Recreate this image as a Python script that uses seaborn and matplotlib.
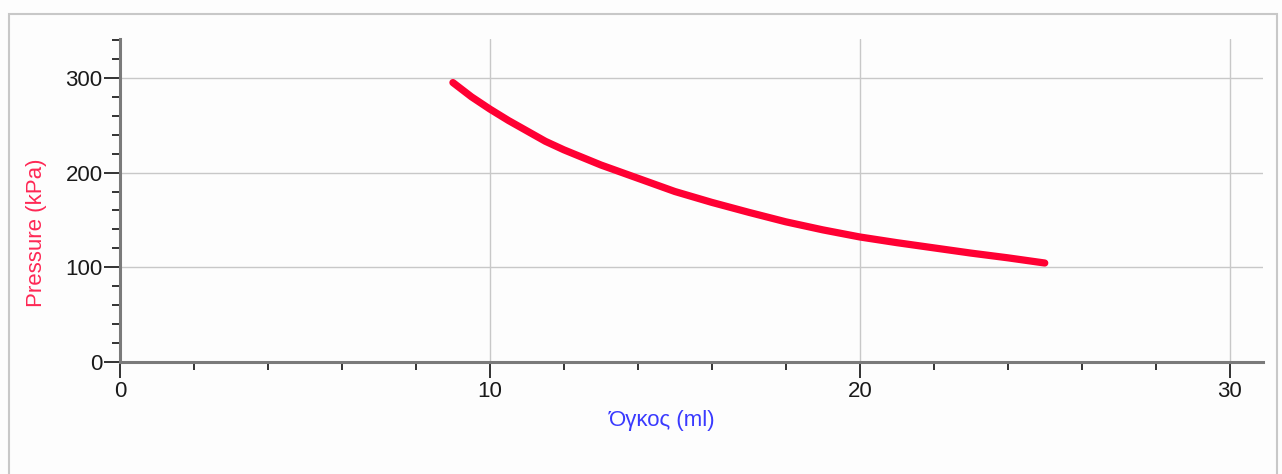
import pandas as pd
import matplotlib.pyplot as plt
import matplotlib.patches as patches
from matplotlib.ticker import MultipleLocator
import seaborn as sns

# volume (ml) and pressure (kPa)
volume = [9.0, 9.5, 10, 10.5, 11, 11.5, 12, 13, 14, 15, 16, 17, 18, 19, 20, 21, 22, 23, 24, 25.0]
pressure = [295, 280, 267, 255, 244, 233, 224, 208, 194, 180, 168.5, 158, 148, 139.5, 132, 126, 120.5, 115, 110, 104.5]

x_ticks = [0, 10, 20, 30]
y_ticks = [0, 100, 200, 300]

df = pd.DataFrame({"volume": volume, "pressure": pressure})

sns.set_style("white")
plt.rcParams['font.family'] = ['Liberation Sans', 'DejaVu Sans']

fig = plt.figure(figsize=(12.82, 4.74), dpi=100)
fig.patch.set_facecolor("#fdfdfd")
# outer light frame
fig.patches.append(patches.Rectangle((9 / 1282, -0.05), 1268 / 1282, 1 - 14 / 474 + 0.05,
                                     transform=fig.transFigure, fill=False,
                                     edgecolor="#c8c8c8", linewidth=1.5))

ax = fig.add_axes([120 / 1282, 112 / 474, 1143 / 1282, 323 / 474])
ax.set_facecolor("#fdfdfd")

sns.lineplot(data=df, x="volume", y="pressure", ax=ax, color="#ff0033",
             linewidth=5.2, solid_capstyle="round", solid_joinstyle="round")

ax.set_xlim(0, 30.9)
ax.set_ylim(0, 341)
ax.set_xticks(x_ticks)
ax.set_yticks(y_ticks)
ax.xaxis.set_minor_locator(MultipleLocator(2))
ax.yaxis.set_minor_locator(MultipleLocator(20))

ax.grid(True, which="major", color="#c8c8c8", linewidth=1)
ax.set_axisbelow(True)

for s in ["top", "right"]:
    ax.spines[s].set_visible(False)
for s in ["left", "bottom"]:
    ax.spines[s].set_color("#7a7a7a")
    ax.spines[s].set_linewidth(2.2)

ax.tick_params(axis="both", which="both", bottom=True, left=True, top=False, right=False)
ax.tick_params(axis="both", which="major", direction="out", length=11.5, width=1.3,
               color="#222222", labelsize=16, labelcolor="#1a1a1a")
ax.tick_params(axis="x", which="major", pad=2)
ax.tick_params(axis="y", which="major", pad=1)
ax.tick_params(axis="both", which="minor", direction="out", length=5.5, width=1.3,
               color="#222222")

ax.set_xlabel("Όγκος (ml)", color="#3a3aff", fontsize=16)
ax.set_ylabel("Pressure (kPa)", color="#ff2855", fontsize=16)
ax.xaxis.set_label_coords(0.474, -0.150)
ax.yaxis.set_label_coords(-0.064, 0.40)

fig.savefig("out.png", dpi=100, facecolor=fig.get_facecolor())
